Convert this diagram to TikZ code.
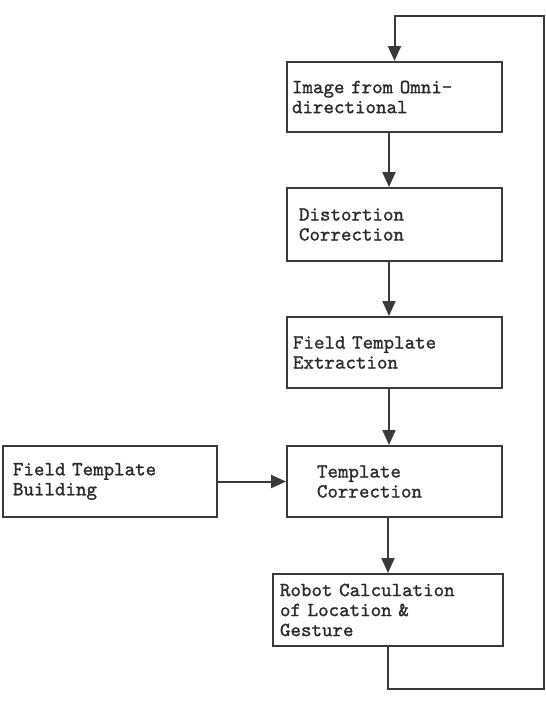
\documentclass[tikz,border=0pt]{standalone}
\usepackage{fontspec}
\setmonofont{lmmono10-regular.otf}[FakeBold=1.2]
\usetikzlibrary{arrows.meta}
\definecolor{linegray}{HTML}{3A3A3A}
\definecolor{textgray}{HTML}{2A2A2A}
\tikzset{
  box/.style={draw=linegray, line width=1pt, inner xsep=0pt, inner ysep=0pt, align=left,
    font=\ttfamily\fontsize{10}{10}\selectfont, text=textgray},
  flow/.style={draw=linegray, line width=1pt, -{Triangle[length=7.5pt,width=6.5pt]}}
}
\begin{document}
\begin{tikzpicture}[x=0.5pt,y=-0.5pt]
\useasboundingbox (0,0) rectangle (546,702);
\node[box, minimum width=107.5pt, minimum height=35pt, text width=102.5pt] (img) at (394.5,97) {Image from Omni-\\directional};
\node[box, minimum width=107.5pt, minimum height=36.5pt, text width=95.5pt] (dist) at (394.5,224.5) {Distortion\\Correction};
\node[box, minimum width=107.5pt, minimum height=35.5pt, text width=101.5pt] (extr) at (394.5,352.5) {Field Template\\Extraction};
\node[box, minimum width=107.5pt, minimum height=35.5pt, text width=77.5pt] (tcorr) at (394.5,481.5) {Template\\Correction};
\node[box, minimum width=107pt, minimum height=35.5pt, text width=97pt] (build) at (110,481.5) {Field Template\\Building};
\node[box, minimum width=115pt, minimum height=36pt, text width=108pt] (robot) at (388,610) {Robot Calculation\\of Location \&\\Gesture};
\coordinate (br) at (544,689);
\coordinate (tr) at (544,16);
\draw[flow] ([xshift=-2.75pt]img.south) -- ([xshift=-2.75pt]dist.north);
\draw[flow] ([xshift=-2.75pt]dist.south) -- ([xshift=-2.75pt]extr.north);
\draw[flow] ([xshift=-2.75pt]extr.south) -- ([xshift=-2.75pt]tcorr.north);
\draw[flow] (robot.north |- tcorr.south) -- (robot.north);
\draw[flow] (build.east) -- (tcorr.west);
\draw[flow] (robot.south) |- (br) -- (tr) -| (img.north);
\end{tikzpicture}
\end{document}
